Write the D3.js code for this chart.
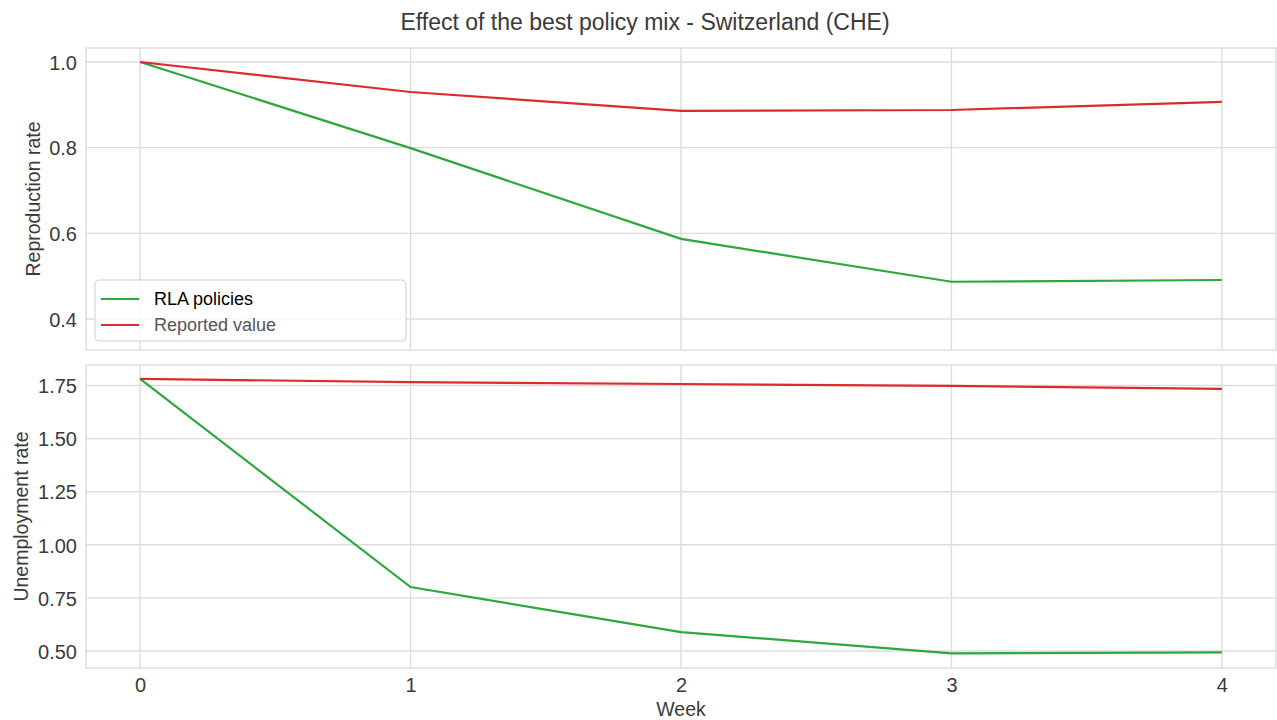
<!DOCTYPE html>
<meta charset="utf-8">
<style>
body { margin: 0; background: #fff; }
svg { font-family: "Liberation Sans", Arial, sans-serif; }
.grid line { stroke: #dcdcdc; stroke-width: 1.4px; }
.tick text { fill: #3a3a3a; font-size: 20px; }
.line { fill: none; stroke-width: 2.2px; }
</style>
<body>
<svg width="1277" height="720"></svg>
<script src="https://cdn.jsdelivr.net/npm/d3@7"></script>
<script>
// data
var weeks = [0, 1, 2, 3, 4];
var reproRLA = [1.0, 0.799, 0.587, 0.487, 0.491];
var reproReported = [1.0, 0.930, 0.886, 0.888, 0.907];
var unempRLA = [1.781, 0.801, 0.589, 0.489, 0.494];
var unempReported = [1.781, 1.766, 1.757, 1.748, 1.734];
var reproTicks = [0.4, 0.6, 0.8, 1.0];
var unempTicks = [0.5, 0.75, 1.0, 1.25, 1.5, 1.75];
var seriesNames = ["RLA policies", "Reported value"];
var colors = ["#2ca83c", "#dc2b2b"];

var svg = d3.select("svg");
var left = 86, right = 1276;

var x = d3.scaleLinear().domain([-0.2, 4.2]).range([left, right]);

svg.append("text")
    .attr("x", 645).attr("y", 30)
    .attr("text-anchor", "middle")
    .style("font-size", "23px")
    .style("fill", "#3a3a3a")
    .text("Effect of the best policy mix - Switzerland (CHE)");

function panel(top, bottom, domain, ticks, fmt, series, label, labelX, showX) {
  var y = d3.scaleLinear().domain(domain).range([bottom, top]);
  var g = svg.append("g");

  // grid
  g.append("g").attr("class", "grid")
    .selectAll("line").data(ticks).enter().append("line")
      .attr("x1", left).attr("x2", right)
      .attr("y1", function(d) { return y(d); }).attr("y2", function(d) { return y(d); });
  g.append("g").attr("class", "grid")
    .selectAll("line").data(weeks).enter().append("line")
      .attr("y1", top).attr("y2", bottom)
      .attr("x1", function(d) { return x(d); }).attr("x2", function(d) { return x(d); });

  // frame
  g.append("rect")
      .attr("x", left).attr("y", top)
      .attr("width", right - left).attr("height", bottom - top)
      .attr("fill", "none").attr("stroke", "#dcdcdc").attr("stroke-width", 1.4);

  var ya = g.append("g")
      .attr("transform", "translate(" + left + ",0)")
      .call(d3.axisLeft(y).tickValues(ticks).tickFormat(fmt).tickSize(0).tickPadding(9));
  ya.select(".domain").remove();
  ya.selectAll(".tick text").attr("dy", "0.36em");

  if (showX) {
    var xa = g.append("g")
        .attr("transform", "translate(0," + bottom + ")")
        .call(d3.axisBottom(x).tickValues(weeks).tickFormat(d3.format("d")).tickSize(0).tickPadding(10));
    xa.select(".domain").remove();
  }

  var line = d3.line()
      .x(function(d, i) { return x(weeks[i]); })
      .y(function(d) { return y(d); });

  series.forEach(function(s, i) {
    g.append("path")
        .datum(s)
        .attr("class", "line")
        .attr("stroke", colors[i])
        .attr("d", line);
  });

  g.append("text")
      .attr("transform", "translate(" + labelX + "," + ((top + bottom) / 2) + ") rotate(-90)")
      .attr("text-anchor", "middle")
      .style("font-size", "19.5px")
      .style("fill", "#3a3a3a")
      .text(label);
  return g;
}

var g1 = panel(48, 350, [0.3276, 1.0327], reproTicks, d3.format(".1f"),
    [reproRLA, reproReported], "Reproduction rate", 40, false);
panel(365, 668, [0.42, 1.8465], unempTicks, d3.format(".2f"),
    [unempRLA, unempReported], "Unemployment rate", 28, true);

svg.append("text")
    .attr("x", (left + right) / 2).attr("y", 716)
    .attr("text-anchor", "middle")
    .style("font-size", "19.5px")
    .style("fill", "#3a3a3a")
    .text("Week");

// legend
var leg = g1.append("g").attr("transform", "translate(95,280)");
leg.append("rect")
    .attr("width", 311).attr("height", 61)
    .attr("rx", 4)
    .attr("fill", "rgba(255,255,255,0.8)")
    .attr("stroke", "#d0d0d0").attr("stroke-width", 1);
seriesNames.forEach(function(n, i) {
  var yy = 19 + i * 26;
  leg.append("line")
      .attr("x1", 6).attr("x2", 44)
      .attr("y1", yy).attr("y2", yy)
      .attr("stroke", colors[i]).attr("stroke-width", 2.2);
  leg.append("text")
      .attr("x", 59).attr("y", yy)
      .attr("dy", "0.35em")
      .style("font-size", "18px")
      .style("fill", i === 0 ? "#000" : "#555")
      .text(n);
});
</script>
</body>
